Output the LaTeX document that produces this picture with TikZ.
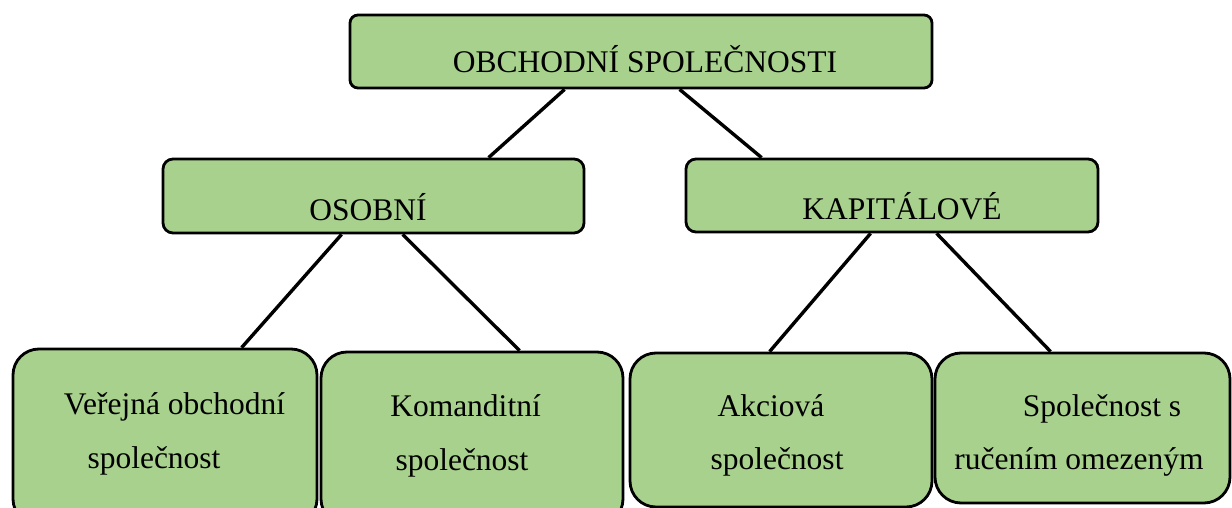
\documentclass[tikz,border=0pt]{standalone}
\usepackage{fontspec}
\setmainfont{Liberation Serif}
\usetikzlibrary{calc}
\definecolor{boxgreen}{RGB}{169,209,142}
\tikzset{
  gbox/.style={draw=black, fill=boxgreen, line width=2.8pt, rounded corners=#1, inner sep=0pt},
  conn/.style={draw=black, line width=3.4pt},
  btext/.style={anchor=base, inner sep=0pt, font=\fontsize{31.5}{38}\selectfont, text=black}
}
\begin{document}
\begin{tikzpicture}[x=1pt,y=-1pt]
\clip (0,0) rectangle (1232,508);
\fill[white] (0,0) rectangle (1232,508);
% boxes
\node[gbox=8pt, minimum width=582pt, minimum height=73pt] (top) at (641,51.5) {};
\node[gbox=10pt, minimum width=421pt, minimum height=74pt] (osobni) at (373.5,196) {};
\node[gbox=10pt, minimum width=412pt, minimum height=73pt] (kap) at (892,195.5) {};
\node[gbox=26pt, minimum width=304pt, minimum height=176pt] (b1) at (165,437) {};
\node[gbox=26pt, minimum width=302pt, minimum height=173pt] (b2) at (472,438.5) {};
\node[gbox=26pt, minimum width=302pt, minimum height=154pt] (b3) at (781,430) {};
\node[gbox=26pt, minimum width=295pt, minimum height=150pt] (b4) at (1082.5,428) {};
% texts
\node[btext] (ttop) at (645,73) {OBCHODNÍ SPOLEČNOSTI};
\node[btext] (tos) at (368,220) {OSOBNÍ};
\node[btext] (tkap) at (902,219) {KAPITÁLOVÉ};
\node[btext] (t1a) at (174.5,414) {Veřejná obchodní};
\node[btext] (t1b) at (154,468) {společnost};
\node[btext] (t2a) at (465.5,416) {Komanditní};
\node[btext] (t2b) at (462,470) {společnost};
\node[btext] (t3a) at (771,416) {Akciová};
\node[btext] (t3b) at (777,469) {společnost};
\node[btext] (t4a) at (1102,416) {Společnost s};
\node[btext] (t4b) at (1079,469) {ručením omezeným};
% connectors
\draw[conn] ([xshift=216pt]top.south west) -- ([xshift=327pt]osobni.north west);
\draw[conn] ([xshift=331pt]top.south west) -- ([xshift=77pt]kap.north west);
\draw[conn] ([xshift=180pt]osobni.south west) -- ([xshift=230pt]b1.north west);
\draw[conn] ([xshift=241pt]osobni.south west) -- ([xshift=200pt]b2.north west);
\draw[conn] ([xshift=186pt]kap.south west) -- ([xshift=141pt]b3.north west);
\draw[conn] ([xshift=252pt]kap.south west) -- ([xshift=117pt]b4.north west);
\end{tikzpicture}
\end{document}
